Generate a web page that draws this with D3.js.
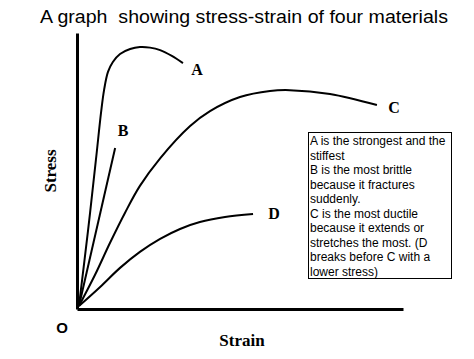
<!DOCTYPE html>
<html>
<head>
<meta charset="utf-8">
<script src="https://cdn.jsdelivr.net/npm/d3@7"></script>
<style>
  html, body { margin: 0; padding: 0; background: #fff; }
  svg { display: block; }
</style>
</head>
<body>
<svg id="chart" width="474" height="359"></svg>
<script>
// ---- data (strain %, stress %) ----
const materials = ["A", "B", "C", "D"];
const strainA = [0.6, 3.4, 5.8, 7.4, 8.3, 9.5, 11.0, 13.2, 16.3, 19.3, 22.4, 25.5, 29.1, 32.5];
const stressA = [1.1, 28.6, 54.0, 71.4, 79.3, 85.9, 89.5, 92.4, 94.2, 94.9, 94.7, 93.8, 91.7, 89.1];
const strainB = [0.6, 11.7];
const stressB = [1.1, 58.3];
const strainC = [0.6, 5.5, 10.1, 14.7, 19.3, 25.5, 34.7, 40.8, 50.0, 59.2, 65.3, 77.6, 92.0];
const stressC = [1.1, 12.3, 23.9, 34.8, 44.6, 54.6, 66.3, 71.7, 76.8, 79.0, 79.3, 77.9, 73.9];
const strainD = [0.6, 7.1, 13.2, 19.3, 25.5, 31.6, 37.7, 45.4, 54.0];
const stressD = [1.1, 8.0, 14.9, 20.7, 25.4, 29.0, 31.5, 33.3, 34.4];
const titleText = "A graph  showing stress-strain of four materials";
const xLabel = "Strain";
const yLabel = "Stress";
const originLabel = "O";
const noteLines = [
  "A is the strongest and the",
  "stiffest",
  "B is the most brittle",
  "because it fractures",
  "suddenly.",
  "C is the most ductile",
  "because it extends or",
  "stretches the most. (D",
  "breaks before C with a",
  "lower stress)"
];

// ---- layout ----
const svg = d3.select("#chart");
const x = d3.scaleLinear().domain([0, 100]).range([77, 403]);
const y = d3.scaleLinear().domain([0, 100]).range([309, 33]);

const labelPos = { A: [197, 75], B: [123, 136], C: [394, 113], D: [274, 219] };

const series = [
  { name: "A", xs: strainA, ys: stressA, curve: d3.curveCatmullRom.alpha(0.5) },
  { name: "B", xs: strainB, ys: stressB, curve: d3.curveLinear },
  { name: "C", xs: strainC, ys: stressC, curve: d3.curveCatmullRom.alpha(0.5) },
  { name: "D", xs: strainD, ys: stressD, curve: d3.curveCatmullRom.alpha(0.5) }
];

// title
svg.append("text")
  .attr("x", 40).attr("y", 23)
  .attr("font-family", "Liberation Sans, Arial, sans-serif")
  .attr("font-size", 17.5)
  .attr("textLength", 408)
  .attr("lengthAdjust", "spacingAndGlyphs")
  .style("white-space", "pre")
  .text(titleText);

// curves
series.forEach(s => {
  const pts = s.xs.map((v, i) => [v, s.ys[i]]);
  const line = d3.line().x(d => x(d[0])).y(d => y(d[1])).curve(s.curve);
  svg.append("path")
    .datum(pts)
    .attr("d", line)
    .attr("fill", "none")
    .attr("stroke", "#000")
    .attr("stroke-width", 2);
  svg.append("text")
    .attr("x", labelPos[s.name][0]).attr("y", labelPos[s.name][1])
    .attr("text-anchor", "middle")
    .attr("font-family", "Liberation Serif, Times New Roman, serif")
    .attr("font-weight", "bold")
    .attr("font-size", 16)
    .text(s.name);
});

// axes (no ticks)
const xAxis = d3.axisBottom(x).tickValues([]).tickSizeOuter(0);
const yAxis = d3.axisLeft(y).tickValues([]).tickSizeOuter(0);
svg.append("g").attr("transform", `translate(0,${y(0)})`).call(xAxis)
  .select(".domain").attr("stroke", "#000").attr("stroke-width", 3);
svg.append("g").attr("transform", `translate(${x(0)},0)`).call(yAxis)
  .select(".domain").attr("stroke", "#000").attr("stroke-width", 3);

// axis labels
svg.append("text")
  .attr("x", 242).attr("y", 346)
  .attr("text-anchor", "middle")
  .attr("font-family", "Liberation Serif, Times New Roman, serif")
  .attr("font-weight", "bold")
  .attr("font-size", 17)
  .text(xLabel);
svg.append("text")
  .attr("transform", "translate(56,171) rotate(-90)")
  .attr("text-anchor", "middle")
  .attr("font-family", "Liberation Serif, Times New Roman, serif")
  .attr("font-weight", "bold")
  .attr("font-size", 17)
  .text(yLabel);
svg.append("text")
  .attr("x", 62).attr("y", 333)
  .attr("text-anchor", "middle")
  .attr("font-family", "Liberation Sans, Arial, sans-serif")
  .attr("font-weight", "bold")
  .attr("font-size", 15)
  .text(originLabel);

// note box
const box = svg.append("g");
box.append("rect")
  .attr("x", 308.5).attr("y", 132.5)
  .attr("width", 143).attr("height", 146)
  .attr("fill", "#fff").attr("stroke", "#000").attr("stroke-width", 1);
box.selectAll("text.note").data(noteLines).enter().append("text")
  .attr("class", "note")
  .attr("x", 310)
  .attr("y", (d, i) => 145 + i * 14.5)
  .attr("font-family", "Liberation Sans, Arial, sans-serif")
  .attr("font-size", 12)
  .text(d => d);
</script>
</body>
</html>
